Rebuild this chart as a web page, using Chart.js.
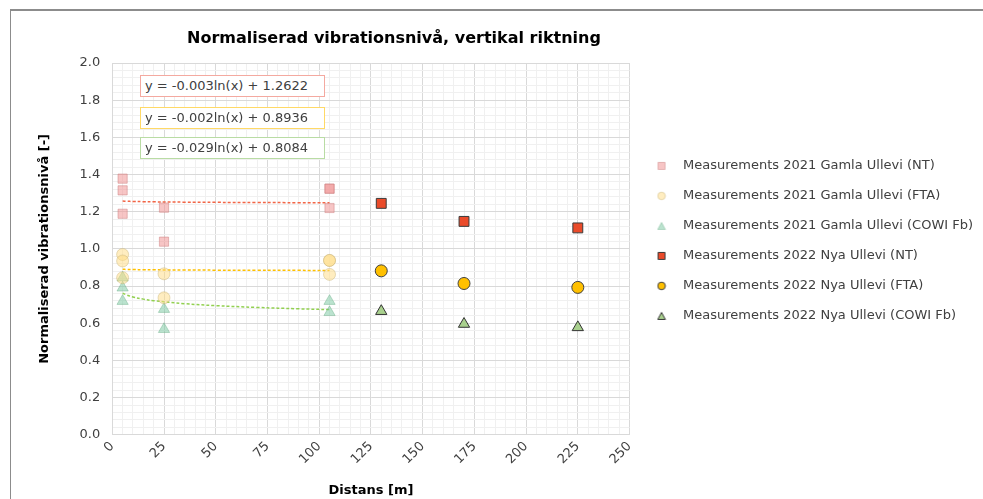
<!DOCTYPE html>
<html>
<head>
<meta charset="utf-8">
<script src="https://cdn.jsdelivr.net/npm/chart.js@4"></script>
<style>
    body { margin: 0; background: #fff; font-family: "DejaVu Sans", sans-serif; }
    #wrap { position: relative; width: 983px; height: 499px; overflow: hidden; }
    #frame { position: absolute; left: 10px; top: 9px; width: 990px; height: 500px;
             border-left: 1px solid #8c8c8c; border-top: 2px solid #8c8c8c; pointer-events: none; }
    #title { position: absolute; left: 0; top: 28px; width: 788px; text-align: center;
             font-weight: bold; font-size: 16px; color: #000; }
    .eq { position: absolute; left: 140px; width: 179px; height: 20px; line-height: 20px;
          border: 1px solid; background: #fff; font-size: 13px; color: #404040; padding-left: 4px; }
</style>
</head>
<body>
<div id="wrap">
    <canvas id="chart" width="983" height="499"></canvas>
    <div id="frame"></div>
    <div id="title"></div>
    <div id="equations"></div>
</div>
<script>
// distances [m] and normalised levels
const x2021 = [5, 5, 5, 25, 25, 105, 105, 105];
const nt2021 = [1.378, 1.315, 1.189, 1.222, 1.039, 1.324, 1.324, 1.220];
const xFta2021 = [5, 5, 5, 25, 25, 105, 105, 105];
const fta2021 = [0.970, 0.935, 0.845, 0.866, 0.737, 0.938, 0.938, 0.863];
const xCowi2021 = [5, 5, 5, 25, 25, 105, 105];
const cowi2021 = [0.845, 0.791, 0.719, 0.676, 0.568, 0.719, 0.659];

const x2022 = [130, 170, 225];
const nt2022 = [1.245, 1.148, 1.113];
const fta2022 = [0.882, 0.814, 0.793];
const cowi2022 = [0.665, 0.596, 0.578];

// logarithmic trend lines through the 2021 data
const trendX = [5, 7, 10, 15, 20, 35, 50, 70, 90, 105];
const trendNt = [1.2574, 1.2564, 1.2553, 1.2541, 1.2532, 1.2515, 1.2505, 1.2495, 1.2487, 1.2482];
const trendFta = [0.8904, 0.8897, 0.8890, 0.8882, 0.8876, 0.8865, 0.8858, 0.8851, 0.8846, 0.8843];
const trendCowi = [0.7617, 0.7520, 0.7416, 0.7299, 0.7215, 0.7053, 0.6950, 0.6852, 0.6779, 0.6734];
const trendEquations = [
    "y = -0.003ln(x) + 1.2622",
    "y = -0.002ln(x) + 0.8936",
    "y = -0.029ln(x) + 0.8084"
];

const seriesLabels = [
    "Measurements 2021 Gamla Ullevi (NT)",
    "Measurements 2021 Gamla Ullevi (FTA)",
    "Measurements 2021 Gamla Ullevi (COWI Fb)",
    "Measurements 2022 Nya Ullevi (NT)",
    "Measurements 2022 Nya Ullevi (FTA)",
    "Measurements 2022 Nya Ullevi (COWI Fb)"
];
const chartTitle = "Normaliserad vibrationsnivå, vertikal riktning";
const xTitle = "Distans [m]";
const yTitle = "Normaliserad vibrationsnivå [-]";

function toPoints(xs, ys) {
    return xs.map((x, i) => ({x: x, y: ys[i]}));
}

function markerCanvas(style, fill, stroke) {
    // small marker image for the legend, so the gap to the text can be set
    const c = document.createElement("canvas");
    c.width = 10;
    c.height = 10;
    const g = c.getContext("2d");
    g.fillStyle = fill;
    g.strokeStyle = stroke;
    g.lineWidth = 1;
    g.beginPath();
    if (style === "rect") {
        g.rect(1.5, 1.5, 7, 7);
    } else if (style === "circle") {
        g.arc(5, 5, 3.8, 0, Math.PI * 2);
    } else {
        g.moveTo(5, 1.5);
        g.lineTo(8.8, 8.5);
        g.lineTo(1.2, 8.5);
        g.closePath();
    }
    g.fill();
    g.stroke();
    return c;
}

document.getElementById("title").textContent = chartTitle;

const eqColors = ["#f4a9a0", "#ffd966", "#b9dca4"];
const eqTops = [75, 107, 137];
const eqHolder = document.getElementById("equations");
trendEquations.forEach((text, i) => {
    const d = document.createElement("div");
    d.className = "eq";
    d.style.top = eqTops[i] + "px";
    d.style.borderColor = eqColors[i];
    d.textContent = text;
    eqHolder.appendChild(d);
});

const styles = [
    {shape: "rect", radius: 6.5, fill: "rgba(241,150,150,0.55)", stroke: "rgba(205,130,130,0.5)"},
    {shape: "circle", radius: 6, fill: "rgba(255,220,130,0.5)", stroke: "rgba(200,180,120,0.45)"},
    {shape: "triangle", radius: 6.5, fill: "rgba(120,200,160,0.5)", stroke: "rgba(100,170,130,0.4)"},
    {shape: "rect", radius: 7, fill: "#ea4b2a", stroke: "#3a3a3a"},
    {shape: "circle", radius: 6, fill: "#ffc000", stroke: "#404040"},
    {shape: "triangle", radius: 6.5, fill: "#a9d18e", stroke: "#333333"}
];
const seriesPoints = [
    toPoints(x2021, nt2021),
    toPoints(xFta2021, fta2021),
    toPoints(xCowi2021, cowi2021),
    toPoints(x2022, nt2022),
    toPoints(x2022, fta2022),
    toPoints(x2022, cowi2022)
];

const datasets = seriesPoints.map((pts, i) => ({
    label: seriesLabels[i],
    data: pts,
    pointStyle: styles[i].shape,
    pointRadius: styles[i].radius,
    pointBackgroundColor: styles[i].fill,
    pointBorderColor: styles[i].stroke,
    pointBorderWidth: 1,
    backgroundColor: styles[i].fill,
    borderColor: styles[i].stroke,
    showLine: false
}));

const trendColors = ["#f26546", "#ffc000", "#92d050"];
[trendNt, trendFta, trendCowi].forEach((ys, i) => {
    datasets.push({
        label: "trend" + i,
        data: toPoints(trendX, ys),
        showLine: true,
        borderColor: trendColors[i],
        borderWidth: 1.5,
        borderDash: [3, 2],
        pointRadius: 0,
        tension: 0.4
    });
});

const legendMarkers = styles.map(s => markerCanvas(s.shape, s.fill, s.stroke));

// move the legend block up a little, like the original
const legendShift = {
    id: "legendShift",
    afterLayout(chart) {
        chart.legend.top -= 8;
        chart.legend.bottom -= 8;
    }
};

new Chart(document.getElementById("chart"), {
    type: "scatter",
    data: {datasets: datasets},
    plugins: [legendShift],
    options: {
        responsive: false,
        animation: false,
        layout: {padding: {top: 63, left: 33, right: 0, bottom: 0}},
        plugins: {
            tooltip: {enabled: false},
            legend: {
                position: "right",
                fullSize: false,
                maxWidth: 360,
                labels: {
                    usePointStyle: true,
                    pointStyleWidth: 30,
                    padding: 17,
                    color: "#404040",
                    font: {family: "DejaVu Sans", size: 13},
                    filter: item => item.datasetIndex < 6,
                    generateLabels: chart => {
                        const items = Chart.defaults.plugins.legend.labels.generateLabels(chart);
                        items.forEach(item => {
                            if (item.datasetIndex < 6) {
                                item.pointStyle = legendMarkers[item.datasetIndex];
                            }
                        });
                        return items;
                    }
                }
            }
        },
        scales: {
            x: {
                type: "linear",
                min: 0,
                max: 250,
                ticks: {
                    stepSize: 5,
                    autoSkip: false,
                    minRotation: 45,
                    maxRotation: 45,
                    padding: 4,
                    color: "#404040",
                    font: {family: "DejaVu Sans", size: 13},
                    callback: v => (v % 25 === 0 ? String(v) : "")
                },
                grid: {
                    drawTicks: false,
                    color: ctx => (ctx.tick && ctx.tick.value % 25 === 0 ? "#d9d9d9" : "#f0f0f0")
                },
                border: {color: "#d9d9d9"},
                title: {
                    display: true,
                    text: xTitle,
                    color: "#000",
                    font: {family: "DejaVu Sans", size: 13, weight: "bold"},
                    padding: {top: 11, bottom: 1}
                }
            },
            y: {
                min: 0,
                max: 2,
                ticks: {
                    stepSize: 0.04,
                    autoSkip: false,
                    padding: 12,
                    color: "#404040",
                    font: {family: "DejaVu Sans", size: 13},
                    callback: v => (Math.round(v * 100) % 20 === 0 ? v.toFixed(1) : "")
                },
                grid: {
                    drawTicks: false,
                    color: ctx => (ctx.tick && Math.round(ctx.tick.value * 100) % 20 === 0 ? "#d9d9d9" : "#f0f0f0")
                },
                border: {color: "#d9d9d9"},
                title: {
                    display: true,
                    text: yTitle,
                    color: "#000",
                    font: {family: "DejaVu Sans", size: 13, weight: "bold"},
                    padding: {top: 4, bottom: 15}
                }
            }
        }
    }
});
</script>
</body>
</html>
